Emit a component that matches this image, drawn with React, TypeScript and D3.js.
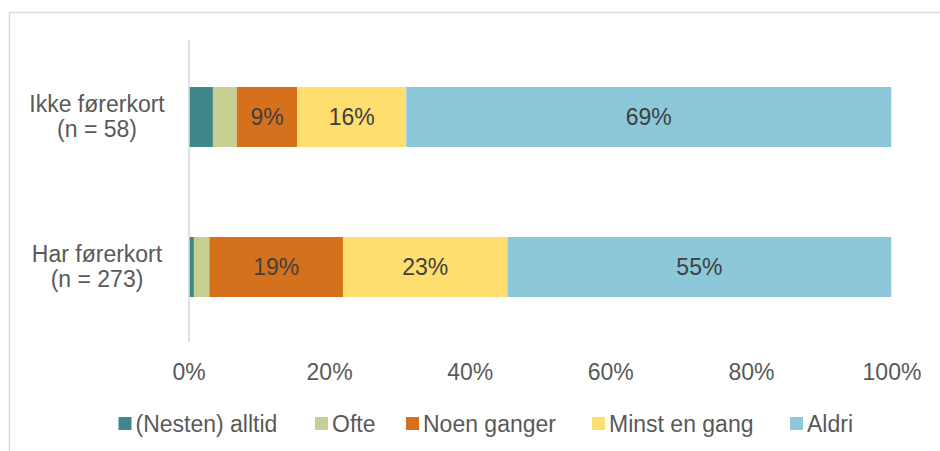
import React from "react";
import * as d3 from "d3";

const categories = ["Ikke førerkort|(n = 58)", "Har førerkort|(n = 273)"];
const seriesNames = ["(Nesten) alltid", "Ofte", "Noen ganger", "Minst en gang", "Aldri"];
const seriesColors = ["#3F878A", "#C8CF93", "#D5711C", "#FEDE6E", "#8CC8DA"];
const ikkeValues = [3.4, 3.4, 8.6, 15.5, 69.0];
const harValues = [0.7, 2.2, 19.0, 23.4, 54.6];
const showLabels = [false, false, true, true, true];
const xTicks = [0, 20, 40, 60, 80, 100];

const rows = [ikkeValues, harValues];

export default function App() {
  const W = 940, H = 451;
  const x = d3.scaleLinear().domain([0, 100]).range([189, 892]);
  const y = d3.scaleBand<string>().domain(categories).range([42, 342]).paddingInner(0.6).paddingOuter(0.3);
  const font = "'Liberation Sans', Arial, sans-serif";
  const textColor = "#595959";

  const legendPos = [118.5, 315, 406, 592, 790];

  return (
    <svg width={W} height={H} style={{ position: "absolute", left: 0, top: 0 }} fontFamily={font}>
      <rect x={0} y={0} width={W} height={H} fill="#fff" />
      <rect x={9.5} y={12.5} width={W + 20} height={H + 20} fill="none" stroke="#d9d9d9" strokeWidth={1.5} />
      {categories.map((cat, ci) => {
        const vals = rows[ci];
        const stack = d3.cumsum(vals);
        const y0 = y(cat)!;
        const bh = y.bandwidth();
        return (
          <g key={cat}>
            {vals.map((v, si) => {
              const start = si === 0 ? 0 : stack[si - 1];
              const end = stack[si];
              const x0 = x(start), x1 = x(end);
              return (
                <g key={si}>
                  <rect x={x0} y={y0} width={x1 - x0} height={bh} fill={seriesColors[si]} />
                  {showLabels[si] && (
                    <text x={(x0 + x1) / 2} y={y0 + bh / 2 + 8} textAnchor="middle" fontSize={23} fill="#404040">
                      {Math.round(v)}%
                    </text>
                  )}
                </g>
              );
            })}
            {cat.split("|").map((line, li) => (
              <text key={li} x={97} y={y0 + bh / 2 - 5 + li * 25} textAnchor="middle" fontSize={23} fill={textColor}>
                {line}
              </text>
            ))}
          </g>
        );
      })}
      <line x1={x(0)} x2={x(0)} y1={40} y2={342} stroke="#d9d9d9" strokeWidth={1.5} />
      {xTicks.map((t) => (
        <text key={t} x={x(t)} y={380} textAnchor="middle" fontSize={23} fill={textColor}>
          {t}%
        </text>
      ))}
      {seriesNames.map((name, i) => (
        <g key={name} transform={`translate(${legendPos[i]},423.5)`}>
          <rect x={0} y={-6.5} width={13} height={13} fill={seriesColors[i]} />
          <text x={17} y={8.5} fontSize={23} fill={textColor}>
            {name}
          </text>
        </g>
      ))}
    </svg>
  );
}
